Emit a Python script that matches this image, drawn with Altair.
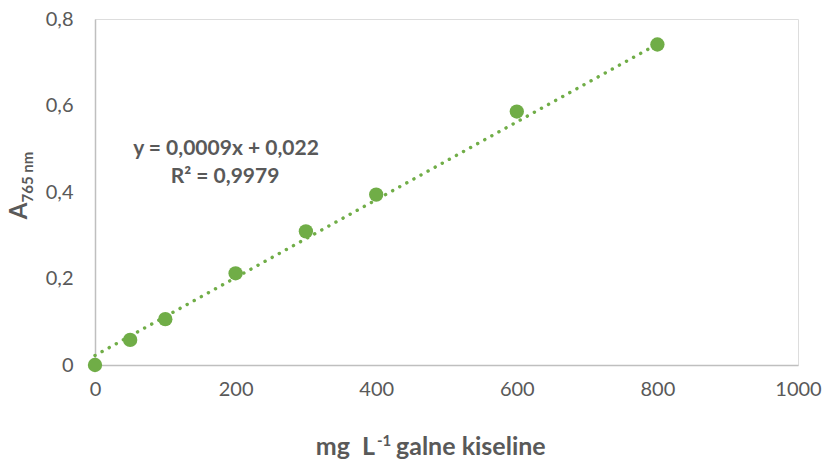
import altair as alt
import pandas as pd

conc = [0, 50, 100, 200, 300, 400, 600, 800]
absorb = [0.0, 0.058, 0.106, 0.212, 0.309, 0.394, 0.586, 0.741]
x_ticks = [0, 200, 400, 600, 800, 1000]
y_ticks = [0, 0.2, 0.4, 0.6, 0.8]
slope = 0.0009
intercept = 0.022
trend_x = [0, 800]
eq_line1 = "y = 0,0009x + 0,022"
eq_line2 = "R² = 0,9979"

GREEN = "#70AD47"
TXT = "#595959"
FONT = "Lato"

df = pd.DataFrame({"x": conc, "y": absorb})
tdf = pd.DataFrame({"x": trend_x, "y": [slope * v + intercept for v in trend_x]})

xs = alt.X("x:Q", scale=alt.Scale(domain=[0, 1000], nice=False),
           axis=alt.Axis(values=x_ticks, title=None, grid=False, ticks=False,
                         domainColor="#BFBFBF", domainWidth=1.5,
                         labelFont=FONT, labelFontSize=20, labelColor=TXT,
                         labelPadding=14, labelFlush=False,
                         labelExpr="format(datum.value, 'd')"))
ys = alt.Y("y:Q", scale=alt.Scale(domain=[0, 0.8], nice=False),
           axis=alt.Axis(values=y_ticks, title=None, grid=False, ticks=False,
                         domainColor="#BFBFBF", domainWidth=1.5,
                         labelFont=FONT, labelFontSize=20, labelColor=TXT,
                         labelPadding=22, labelFlush=False,
                         labelExpr="replace(format(datum.value, '~g'), '.', ',')"))

trend = alt.Chart(tdf).mark_line(
    color=GREEN, strokeWidth=3.4, strokeCap="round", strokeDash=[0.1, 8]
).encode(x=xs, y=ys)

pts = alt.Chart(df).mark_circle(size=205, color=GREEN, opacity=1).encode(x=xs, y=ys)


def txt(s, x, y, size, bold=True, align="center", angle=0, baseline="alphabetic"):
    kw = dict(font=FONT, fontSize=size, fontWeight="bold" if bold else "normal",
              color=TXT, align=align, baseline=baseline)
    if angle:
        kw["angle"] = angle
    return alt.Chart(pd.DataFrame({"t": [s]})).mark_text(**kw).encode(
        text="t:N", x=alt.value(x), y=alt.value(y))


layers = [
    trend, pts,
    txt(eq_line1, 131, 136, 21),
    txt(eq_line2, 130, 164, 21),
    txt("mg\u00a0\u00a0L", 280, 436, 25, align="right"),
    txt("-1", 282, 427, 15, align="left"),
    txt("galne kiseline", 301, 436, 25, align="left"),
    txt("A", -68, 192, 24, angle=270),
    txt("765 nm", -62, 158, 15, angle=270),
]

chart = alt.layer(*layers).properties(
    width=703, height=346,
    autosize=alt.AutoSizeParams(type="none"),
    padding={"left": 95, "top": 19, "right": 30, "bottom": 101},
).configure_view(stroke=None).configure(background="white")

chart.save("out.html", embed_options={"renderer": "svg", "actions": False})
